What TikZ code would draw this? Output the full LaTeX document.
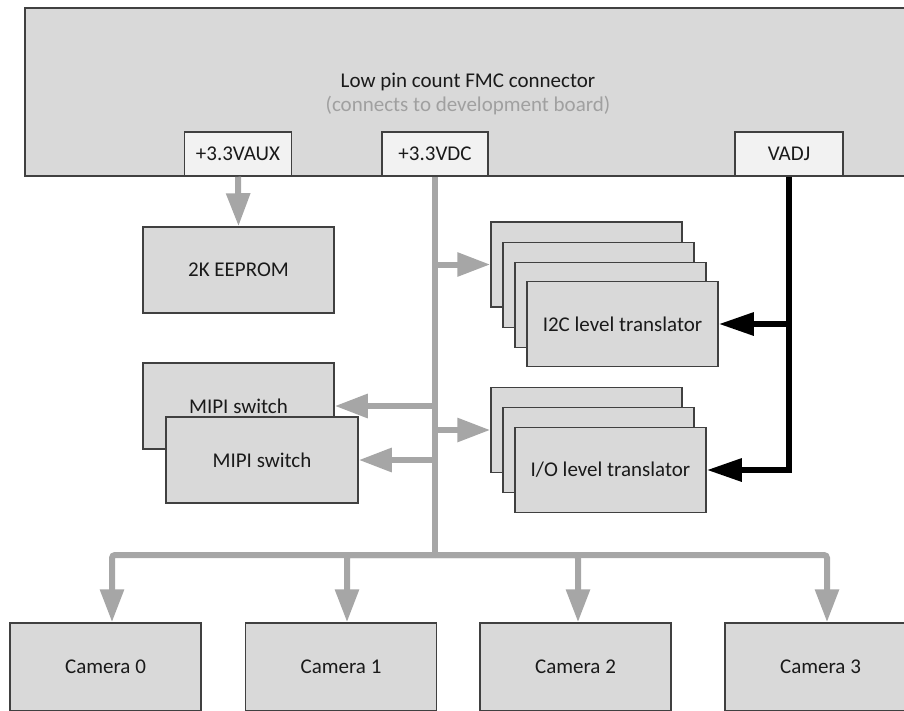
\documentclass[tikz,border=0pt]{standalone}
\usepackage{fontspec}
\setmainfont{Carlito}
\usetikzlibrary{arrows.meta}
\definecolor{boxfill}{HTML}{D9D9D9}
\definecolor{pinfill}{HTML}{F2F2F2}
\definecolor{edge}{HTML}{404040}
\definecolor{wire}{HTML}{A6A6A6}
\definecolor{ink}{HTML}{1A1A1A}
\definecolor{subink}{HTML}{A0A0A0}
\begin{document}
\begin{tikzpicture}[x=1pt,y=-1pt,
  blk/.style={draw=edge,fill=boxfill,line width=1.5pt,minimum width=191pt,minimum height=86pt,
    inner sep=0pt,text=ink,font=\fontsize{21}{24}\selectfont,anchor=center},
  pin/.style={blk,fill=pinfill,minimum width=107pt,minimum height=44pt},
  wireline/.style={draw=wire,line width=6pt},
  pw/.style={wireline,-{Triangle[length=33pt,width=23pt]}},
  bw/.style={draw=black,line width=6pt,line join=miter,-{Triangle[length=35pt,width=22pt]}},
]
\useasboundingbox (0,0) rectangle (904,710);
\clip (0,0) rectangle (904,710);

% FMC connector
\node[blk,minimum width=895pt,minimum height=168pt] (fmc) at (472.5,92) {};
\node[text=ink,font=\fontsize{21}{24.5}\selectfont,align=center] (fmctext) at (468,94)
  {Low pin count FMC connector\\\textcolor{subink}{(connects to development board)}};
\node[pin] (aux) at (238,154) {+3.3VAUX};
\node[pin,minimum width=106pt] (vdc) at (435,154) {+3.3VDC};
\node[pin,minimum width=108pt] (vadj) at (789,154) {VADJ};

% left blocks
\node[blk] (eeprom) at (238.5,270) {2K EEPROM};
\node[blk] (mipiA) at (238.5,406) {MIPI switch};
\node[blk,minimum width=192pt] (mipiB) at (262,460) {MIPI switch};

% I2C stack
\node[blk,minimum height=85pt] (i2c1) at (586.5,264.5) {};
\node[blk,minimum height=85pt] (i2c2) at (598.5,285) {};
\node[blk,minimum height=85pt] (i2c3) at (610.5,305) {};
\node[blk,minimum height=85pt] (i2c4) at (622.5,324) {I2C level translator};

% I/O stack
\node[blk,minimum height=85pt] (io1) at (586.5,430) {};
\node[blk,minimum height=85pt] (io2) at (598.5,450) {};
\node[blk,minimum height=85pt] (io3) at (610.5,470) {I/O level translator};

% cameras
\node[blk,minimum height=88pt] (cam0) at (105.5,667) {Camera 0};
\node[blk,minimum height=88pt] (cam1) at (341,667) {Camera 1};
\node[blk,minimum height=88pt] (cam2) at (575.5,667) {Camera 2};
\node[blk,minimum height=88pt] (cam3) at (820.5,667) {Camera 3};

% 3.3VAUX
\draw[pw] (aux.south) -- (eeprom.north);

% 3.3VDC bus
\coordinate (bus) at (435,555);
\draw[wireline] (vdc.south) -- (bus);
\draw[pw] (vdc.south |- i2c1.west) -- (i2c1.west);
\draw[pw] (vdc.south |- io1.west) -- (io1.west);
\draw[pw] (vdc.south |- mipiA.east) -- (mipiA.east);
\draw[pw] (vdc.south |- mipiB.east) -- (mipiB.east);
\draw[pw,rounded corners=3pt] (bus) -| ([xshift=6.5pt]cam0.north);
\draw[pw,rounded corners=3pt] (bus) -| ([xshift=6pt]cam1.north);
\draw[pw,rounded corners=3pt] (bus) -| ([xshift=2.5pt]cam2.north);
\draw[pw,rounded corners=3pt] (bus) -| ([xshift=6.5pt]cam3.north);

% VADJ
\draw[bw] (vadj.south) |- (io3.east);
\draw[bw] (vadj.south |- i2c4.east) -- (i2c4.east);
\end{tikzpicture}
\end{document}
